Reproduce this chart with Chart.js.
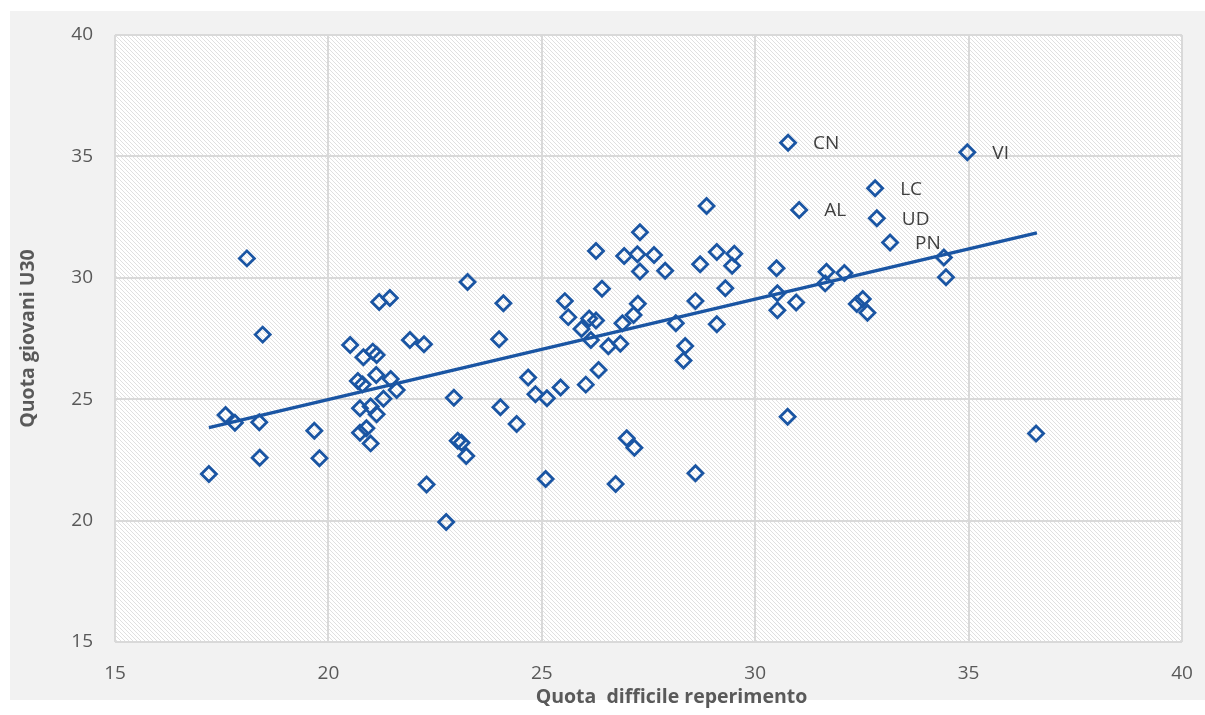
<!DOCTYPE html>
<html>
<head>
<meta charset="utf-8">
<script src="https://cdn.jsdelivr.net/npm/chart.js@4.4.1/dist/chart.umd.min.js"></script>
<style>
  body { margin: 0; background: #ffffff; }
  #wrap { width: 1205px; height: 715px; position: relative; }
</style>
</head>
<body>
<div id="wrap"><canvas id="myChart"></canvas></div>
<script>
// quota difficile reperimento (x) / quota giovani U30 (y), one per provincia
const quotaDifficile = [
  17.20, 17.59, 17.81, 18.09, 18.38, 18.39, 18.46, 19.67, 19.79, 20.51,
  20.69, 20.80, 20.82, 21.04, 21.13, 21.12, 21.46, 21.60, 21.29, 20.74,
  20.99, 21.13, 20.74, 20.89, 20.99, 21.19, 21.44, 21.91, 22.24, 22.30,
  22.76, 22.94, 23.03, 23.12, 23.23, 23.26, 24.00, 24.10, 24.03, 24.41,
  24.68, 24.85, 25.09, 25.12, 25.44, 25.54, 25.62, 25.93, 26.03, 26.11,
  26.15, 26.27, 26.27, 26.33, 26.41, 26.56, 26.73, 26.84, 26.89, 26.93,
  26.99, 27.15, 27.17, 27.24, 27.25, 27.30, 27.30, 27.63, 27.89, 28.14,
  28.36, 28.32, 28.60, 28.60, 28.71, 28.86, 29.10, 29.10, 29.30, 29.46,
  29.51, 30.50, 30.52, 30.52, 30.76, 30.77, 30.96, 31.03, 31.64, 31.67,
  32.09, 32.38, 32.52, 32.63, 32.81, 32.85, 33.16, 34.42, 34.47, 34.97,
  36.58
];
const quotaGiovani = [
  21.92, 24.35, 24.03, 30.80, 24.05, 22.59, 27.66, 23.70, 22.57, 27.23,
  25.75, 25.61, 26.73, 26.96, 26.82, 26.00, 25.83, 25.38, 25.02, 24.63,
  24.70, 24.38, 23.62, 23.80, 23.18, 29.00, 29.17, 27.44, 27.26, 21.49,
  19.94, 25.06, 23.29, 23.21, 22.66, 29.83, 27.47, 28.95, 24.67, 23.98,
  25.89, 25.20, 21.71, 25.04, 25.48, 29.04, 28.38, 27.89, 25.60, 28.32,
  27.44, 28.24, 31.10, 26.20, 29.55, 27.18, 21.51, 27.28, 28.13, 30.90,
  23.39, 28.47, 23.00, 30.97, 28.93, 30.26, 31.88, 30.94, 30.29, 28.13,
  27.19, 26.59, 21.95, 29.04, 30.56, 32.96, 28.09, 31.06, 29.57, 30.50,
  30.99, 30.39, 29.36, 28.66, 24.28, 35.56, 28.98, 32.79, 29.77, 30.25,
  30.20, 28.92, 29.13, 28.56, 33.69, 32.45, 31.45, 30.84, 30.02, 35.17,
  23.59
];
// sigle shown next to a few points
const sigle = [
  '', '', '', '', '', '', '', '', '', '',
  '', '', '', '', '', '', '', '', '', '',
  '', '', '', '', '', '', '', '', '', '',
  '', '', '', '', '', '', '', '', '', '',
  '', '', '', '', '', '', '', '', '', '',
  '', '', '', '', '', '', '', '', '', '',
  '', '', '', '', '', '', '', '', '', '',
  '', '', '', '', '', '', '', '', '', '',
  '', '', '', '', '', 'CN', '', 'AL', '', '',
  '', '', '', '', 'LC', 'UD', 'PN', '', '', 'VI',
  ''
];
// linear trend line ends
const trendX = [17.2, 36.6];
const trendY = [23.83, 31.85];

const xTicks = [15, 20, 25, 30, 35, 40];
const yTicks = [15, 20, 25, 30, 35, 40];

const blu = '#1a55a3';
const greyText = '#595959';
const titoloX = 'Quota  difficile reperimento';

const points = quotaDifficile.map((x, i) => ({ x: x, y: quotaGiovani[i] }));
const trend = trendX.map((x, i) => ({ x: x, y: trendY[i] }));

// diagonal hatch for the plot area
function makeHatch() {
  const c = document.createElement('canvas');
  c.width = 4; c.height = 4;
  const g = c.getContext('2d');
  g.fillStyle = '#ffffff';
  g.fillRect(0, 0, 4, 4);
  g.strokeStyle = '#e0e0e0';
  g.lineWidth = 1;
  g.beginPath();
  g.moveTo(-1, -1); g.lineTo(5, 5);
  g.moveTo(-1, 3); g.lineTo(1, 5);
  g.moveTo(3, -1); g.lineTo(5, 1);
  g.stroke();
  return g.createPattern(c, 'repeat');
}

const sfondo = {
  id: 'sfondo',
  beforeDraw(chart) {
    const ctx = chart.ctx;
    const a = chart.chartArea;
    ctx.save();
    ctx.fillStyle = '#f2f2f2';
    ctx.fillRect(10, 11, chart.width - 10, 689);
    ctx.fillStyle = makeHatch();
    ctx.fillRect(a.left, a.top, a.right - a.left, a.bottom - a.top);
    ctx.restore();
  }
};

const etichette = {
  id: 'etichette',
  afterDatasetsDraw(chart) {
    const ctx = chart.ctx;
    const xs = chart.scales.x, ys = chart.scales.y;
    ctx.save();
    ctx.font = '19px "Open Sans"';
    ctx.fillStyle = '#404040';
    ctx.textBaseline = 'middle';
    sigle.forEach((s, i) => {
      if (!s) return;
      ctx.fillText(s, xs.getPixelForValue(quotaDifficile[i]) + 25, ys.getPixelForValue(quotaGiovani[i]) + 1);
    });
    // x axis title, Excel puts it a little right of centre
    ctx.font = 'bold 19.5px "Open Sans"';
    ctx.fillStyle = greyText;
    ctx.textAlign = 'center';
    ctx.fillText(titoloX, (chart.chartArea.left + chart.chartArea.right) / 2 + 23, chart.height - 18);
    ctx.restore();
  }
};

const config = {
  type: 'scatter',
  data: {
    datasets: [
      {
        label: 'Province',
        data: points,
        pointStyle: 'rectRot',
        pointRadius: 7.5,
        pointHoverRadius: 7.5,
        pointBorderWidth: 2.8,
        borderColor: blu,
        backgroundColor: 'rgba(0,0,0,0)',
        order: 2
      },
      {
        type: 'line',
        label: 'Lineare',
        data: trend,
        borderColor: blu,
        borderWidth: 3.4,
        pointRadius: 0,
        fill: false,
        order: 1
      }
    ]
  },
  options: {
    responsive: true,
    maintainAspectRatio: false,
    animation: false,
    layout: { padding: { left: 0, top: 35, right: 23, bottom: 0 } },
    plugins: {
      legend: { display: false },
      tooltip: { enabled: false }
    },
    scales: {
      x: {
        type: 'linear',
        min: 15, max: 40,
        afterBuildTicks: (s) => { s.ticks = xTicks.map(v => ({ value: v })); },
        afterFit: (s) => { s.height = 73; s.paddingLeft = 0; s.paddingRight = 0; },
        grid: { color: '#d9d9d9', lineWidth: 2, drawTicks: false },
        border: { display: false },
        ticks: { color: greyText, font: { family: 'Open Sans', size: 19 }, padding: 20 },
        title: { display: false, text: titoloX }
      },
      y: {
        type: 'linear',
        min: 15, max: 40,
        afterBuildTicks: (s) => { s.ticks = yTicks.map(v => ({ value: v })); },
        afterFit: (s) => { s.width = 115; s.paddingTop = 0; s.paddingBottom = 0; },
        grid: { color: '#d9d9d9', lineWidth: 2, drawTicks: false },
        border: { display: false },
        ticks: { color: greyText, font: { family: 'Open Sans', size: 19 }, padding: 22 },
        title: {
          display: true,
          text: 'Quota giovani U30',
          color: greyText,
          font: { family: 'Open Sans', size: 19.5, weight: 'bold' },
          padding: { top: 17, bottom: 0 }
        }
      }
    }
  },
  plugins: [sfondo, etichette]
};

const myChart = new Chart(document.getElementById('myChart'), config);
</script>
</body>
</html>
